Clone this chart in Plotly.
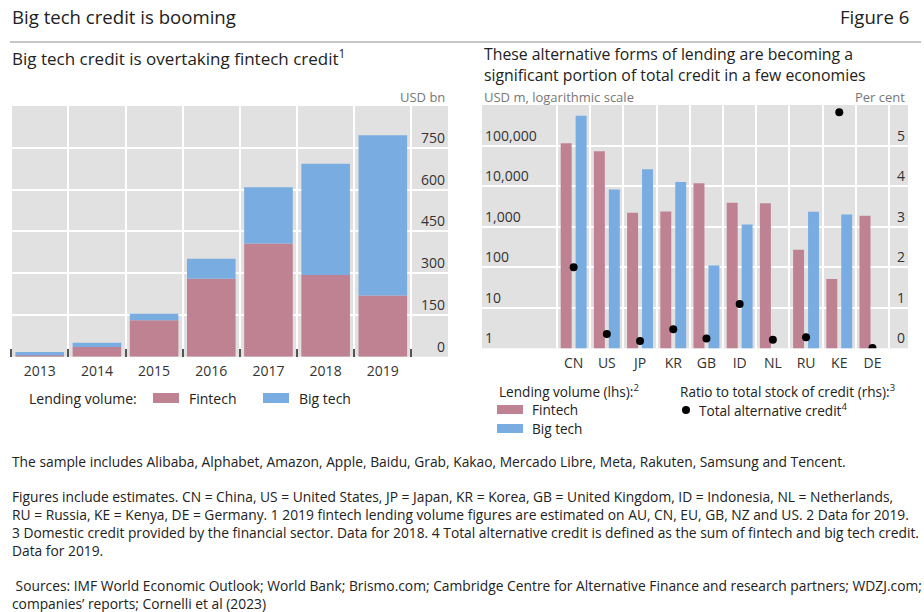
import plotly.graph_objects as go

W, H = 924, 612

# Left panel: lending volume by year, USD bn
years = ["2013", "2014", "2015", "2016", "2017", "2018", "2019"]
fintech_bn = [4, 35, 131, 280, 406, 293, 220]
bigtech_bn = [13, 15, 23, 72, 202, 400, 575]
left_ticks = [0, 150, 300, 450, 600, 750]

# Right panel: lending volume by economy, USD m (log scale), and ratio to credit stock, %
economies = ["CN", "US", "JP", "KR", "GB", "ID", "NL", "RU", "KE", "DE"]
fintech_m = [114000, 72000, 2200, 2350, 11700, 3900, 3800, 270, 51, 1870]
bigtech_m = [540000, 8300, 26000, 12600, 110, 1130, None, 2330, 2000, None]
total_alt_pct = [2.0, 0.35, 0.18, 0.47, 0.24, 1.09, 0.21, 0.27, 5.82, 0.01]
log_ticks = [1, 10, 100, 1000, 10000, 100000]
log_tick_text = ["1", "10", "100", "1,000", "10,000", "100,000"]
pct_ticks = [0, 1, 2, 3, 4, 5]

FIN = "#bf8292"
BIG = "#79ade1"
BG = "#e1e1e1"
TXT = "#222222"
GREY = "#777777"
FONT = "Open Sans"


def px(x):
    return x / W


def py(y):
    return 1 - y / H


fig = go.Figure()

# Stacked columns (big tech sits on top of fintech)
fig.add_trace(go.Bar(x=years, y=fintech_bn, width=0.85, offset=-0.425,
                     marker=dict(color=FIN, line=dict(width=0)),
                     xaxis="x", yaxis="y", showlegend=False))
fig.add_trace(go.Bar(x=years, y=bigtech_bn, base=fintech_bn, width=0.85, offset=-0.425,
                     marker=dict(color=BIG, line=dict(width=0)),
                     xaxis="x", yaxis="y", showlegend=False))

# Paired columns on the log axis
fig.add_trace(go.Bar(x=economies, y=fintech_m, width=0.33, offset=-0.39,
                     marker=dict(color=FIN, line=dict(width=0)),
                     xaxis="x2", yaxis="y2", showlegend=False))
fig.add_trace(go.Bar(x=economies, y=bigtech_m, width=0.33, offset=0.06,
                     marker=dict(color=BIG, line=dict(width=0)),
                     xaxis="x2", yaxis="y2", showlegend=False))
fig.add_trace(go.Scatter(x=economies, y=total_alt_pct, mode="markers",
                         marker=dict(color="black", size=8),
                         xaxis="x2", yaxis="y3", showlegend=False, cliponaxis=True))

tickfont = dict(family=FONT, size=14, color="#333333")

fig.update_layout(
    width=W, height=H,
    margin=dict(l=0, r=0, t=0, b=0),
    paper_bgcolor="white", plot_bgcolor=BG,
    barmode="overlay",
    font=dict(family=FONT, color=TXT),
    xaxis=dict(domain=[px(10), px(448)], type="category", range=[-0.52, 7.14],
               tickson="boundaries", showgrid=True, gridcolor="white", gridwidth=1.5,
               ticks="inside", ticklen=8, tickwidth=1.5, tickcolor="#555555",
               tickfont=tickfont, ticklabelstandoff=4, showline=False, zeroline=False,
               anchor="y"),
    yaxis=dict(domain=[py(356.7), py(106)], range=[0, 900], tickvals=left_ticks,
               side="right", ticklabelposition="inside top", showgrid=True,
               gridcolor="white", gridwidth=1.5, zeroline=False, showline=False,
               ticks="", tickfont=tickfont, anchor="x"),
    xaxis2=dict(domain=[px(482), px(908)], type="category", range=[-2.76, 10.07],
                tickson="boundaries", showgrid=True, gridcolor="white", gridwidth=1.5,
                ticks="", tickfont=tickfont, ticklabelstandoff=5, showline=False,
                zeroline=False, anchor="y2"),
    yaxis2=dict(domain=[py(348.3), py(105)], type="log", range=[0, 6],
                tickvals=log_ticks, ticktext=log_tick_text, side="left",
                ticklabelposition="inside top", showgrid=True, gridcolor="white",
                gridwidth=1.5, zeroline=False, showline=False, ticks="",
                tickfont=tickfont, anchor="x2"),
    yaxis3=dict(overlaying="y2", range=[0, 6], tickvals=pct_ticks, side="right",
                ticklabelposition="inside top", showgrid=False, zeroline=False,
                showline=False, ticks="", tickfont=tickfont, anchor="x2"),
)

ann = []


def text(x, y, s, size=14, color=TXT, xanchor="left", yanchor="middle", family=FONT):
    ann.append(dict(x=px(x), y=py(y), xref="paper", yref="paper", text=s,
                    showarrow=False, xanchor=xanchor, yanchor=yanchor, align="left",
                    font=dict(family=family, size=size, color=color)))


# Headings
text(10, 16, "Big tech credit is booming", size=18.6)
text(911, 16, "Figure 6", size=18.6, xanchor="right")
text(10, 57, "Big tech credit is overtaking fintech credit<sup>1</sup>", size=17)
text(482, 64.5, "These alternative forms of lending are becoming a<br>"
                "significant portion of total credit in a few economies", size=15.8)

# Units
text(447, 97, "USD bn", size=13, color=GREY, xanchor="right")
text(482, 97, "USD m, logarithmic scale", size=13, color=GREY)
text(907, 97, "Per cent", size=13, color=GREY, xanchor="right")

# Left key
text(27, 398, "Lending volume:", size=14)
text(187, 398, "Fintech", size=14)
text(297, 398, "Big tech", size=14)

# Right key
text(497, 391, "Lending volume (lhs):<sup>2</sup>", size=13.6)
text(530, 409, "Fintech", size=13.6)
text(530, 428, "Big tech", size=13.6)
text(678, 391, "Ratio to total stock of credit (rhs):<sup>3</sup>", size=13.6)
text(697, 410, "Total alternative credit<sup>4</sup>", size=13.6)

# Notes and sources
NOTE = 13.8
text(10, 461, "The sample includes Alibaba, Alphabet, Amazon, Apple, Baidu, Grab, Kakao, "
              "Mercado Libre, Meta, Rakuten, Samsung and Tencent.", size=NOTE)
text(10, 523.5,
     "Figures include estimates. CN = China, US = United States, JP = Japan, KR = Korea, "
     "GB = United Kingdom, ID = Indonesia, NL = Netherlands,<br>"
     "RU = Russia, KE = Kenya, DE = Germany. 1 2019 fintech lending volume figures are "
     "estimated on AU, CN, EU, GB, NZ and US. 2 Data for 2019.<br>"
     "3 Domestic credit provided by the financial sector. Data for 2018. 4 Total alternative "
     "credit is defined as the sum of fintech and big tech credit.<br>"
     "Data for 2019.", size=NOTE)
text(10, 594,
     " Sources: IMF World Economic Outlook; World Bank; Brismo.com; Cambridge Centre for "
     "Alternative Finance and research partners; WDZJ.com;<br>"
     "companies\u2019 reports; Cornelli et al (2023)", size=NOTE)

fig.update_layout(annotations=ann)

shapes = [
    # rule under the figure heading
    dict(type="line", xref="paper", yref="paper", x0=px(10), x1=px(921), y0=py(42), y1=py(42),
         line=dict(color="#b4b4b4", width=1.5)),
    # key swatches
    dict(type="rect", xref="paper", yref="paper", x0=px(153), x1=px(179), y0=py(403), y1=py(393),
         fillcolor=FIN, line=dict(width=0)),
    dict(type="rect", xref="paper", yref="paper", x0=px(263), x1=px(289), y0=py(403), y1=py(393),
         fillcolor=BIG, line=dict(width=0)),
    dict(type="rect", xref="paper", yref="paper", x0=px(497), x1=px(523), y0=py(414), y1=py(405),
         fillcolor=FIN, line=dict(width=0)),
    dict(type="rect", xref="paper", yref="paper", x0=px(497), x1=px(523), y0=py(433), y1=py(424),
         fillcolor=BIG, line=dict(width=0)),
    dict(type="circle", xref="paper", yref="paper", x0=px(682), x1=px(690), y0=py(414), y1=py(406),
         fillcolor="black", line=dict(width=0)),
]
fig.update_layout(shapes=shapes)

fig.write_html("out.html")
